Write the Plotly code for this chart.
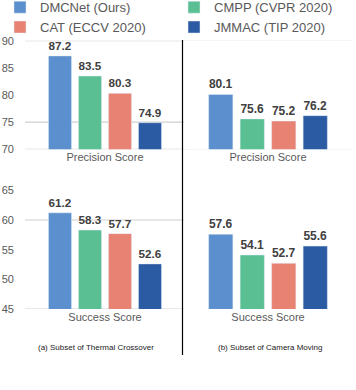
import plotly.graph_objects as go
from plotly.subplots import make_subplots

# data
methods = ["DMCNet (Ours)", "CMPP (CVPR 2020)", "CAT (ECCV 2020)", "JMMAC (TIP 2020)"]
colors = ["#5B8FCD", "#5BBF94", "#E88273", "#2B5BA2"]

thermal_precision = [87.2, 83.5, 80.3, 74.9]
thermal_success = [61.2, 58.3, 57.7, 52.6]
camera_precision = [80.1, 75.6, 75.2, 76.2]
camera_success = [57.6, 54.1, 52.7, 55.6]

precision_ticks = [70, 75, 80, 85, 90]
success_ticks = [45, 50, 55, 60, 65]
precision_grid = [70, 75, 90]
success_grid = [45, 60]

captions = ["(a) Subset of Thermal Crossover", "(b) Subset of Camera Moving"]

W, H = 356, 390
fig = make_subplots(rows=2, cols=2, horizontal_spacing=0, vertical_spacing=0)

panels = [
    (1, 1, thermal_precision, "Precision Score", True),
    (1, 2, camera_precision, "Precision Score", False),
    (2, 1, thermal_success, "Success Score", False),
    (2, 2, camera_success, "Success Score", False),
]

for row, col, vals, cat, legend in panels:
    for i, m in enumerate(methods):
        fig.add_trace(go.Bar(
            x=[cat], y=[vals[i]], name=m, marker_color=colors[i],
            text=[f"{vals[i]:.1f}"], textposition="outside",
            textfont=dict(size=12, color="#404040", family="Liberation Sans", weight="bold"),
            cliponaxis=False, showlegend=legend, legendrank=i,
        ), row=row, col=col)

# axes
xl = [25 / W, 185 / W]
xr = [184 / W, 352 / W]
y_top = [1 - 149.3 / H, 1 - 40.7 / H]
y_bot = [1 - 309 / H, 1 - 190.3 / H]

tickfont = dict(size=11, color="#595959", family="Liberation Sans")
catfont = dict(size=11, color="#595959", family="Liberation Sans")

for row, col, dom_x, dom_y, rng, ticks in [
    (1, 1, xl, y_top, [70, 90], precision_ticks),
    (1, 2, xr, y_top, [70, 90], precision_ticks),
    (2, 1, xl, y_bot, [45, 65], success_ticks),
    (2, 2, xr, y_bot, [45, 65], success_ticks),
]:
    fig.update_xaxes(domain=dom_x, showgrid=False, showline=False, zeroline=False,
                     tickfont=catfont, ticks="", row=row, col=col)
    fig.update_yaxes(domain=dom_y, range=rng, tickvals=ticks, showgrid=False,
                     zeroline=False, showline=False, showticklabels=(col == 1),
                     tickfont=tickfont, ticklabelstandoff=10, row=row, col=col)

for col in [1, 2]:
    for g in precision_grid:
        fig.add_hline(y=g, line=dict(color="#D0D0D0", width=1.2), layer="below", row=1, col=col)
    for g in success_grid:
        fig.add_hline(y=g, line=dict(color="#D0D0D0", width=1.2), layer="below", row=2, col=col)

# divider
fig.add_shape(type="line", xref="paper", yref="paper",
              x0=182.5 / W, x1=182.5 / W, y0=1 - 40 / H, y1=1 - 355 / H,
              line=dict(color="#000000", width=1.2))

# captions
for cx, txt in zip([96 / W, 270 / W], captions):
    fig.add_annotation(x=cx, y=1 - 347 / H, xref="paper", yref="paper",
                       xanchor="center", yanchor="middle",
                       text=txt, showarrow=False,
                       font=dict(size=8, color="#222222", family="Liberation Sans"))

fig.update_layout(
    width=W, height=H,
    margin=dict(l=0, r=0, t=0, b=0, autoexpand=False),
    plot_bgcolor="white", paper_bgcolor="white",
    barmode="group", bargap=0.25, bargroupgap=0.23,
    legend=dict(orientation="h", x=0.0, y=1.02, xanchor="left", yanchor="top",
                entrywidth=129, entrywidthmode="pixels", bgcolor="rgba(0,0,0,0)",
                font=dict(size=13, color="#595959", family="Liberation Sans"),
                tracegroupgap=0, itemwidth=30),
)

# page body has a default 8px margin; drop it so the figure sits at the corner
fig.write_html("out.html", config={"displayModeBar": False},
               post_script="document.body.style.margin='0';")
